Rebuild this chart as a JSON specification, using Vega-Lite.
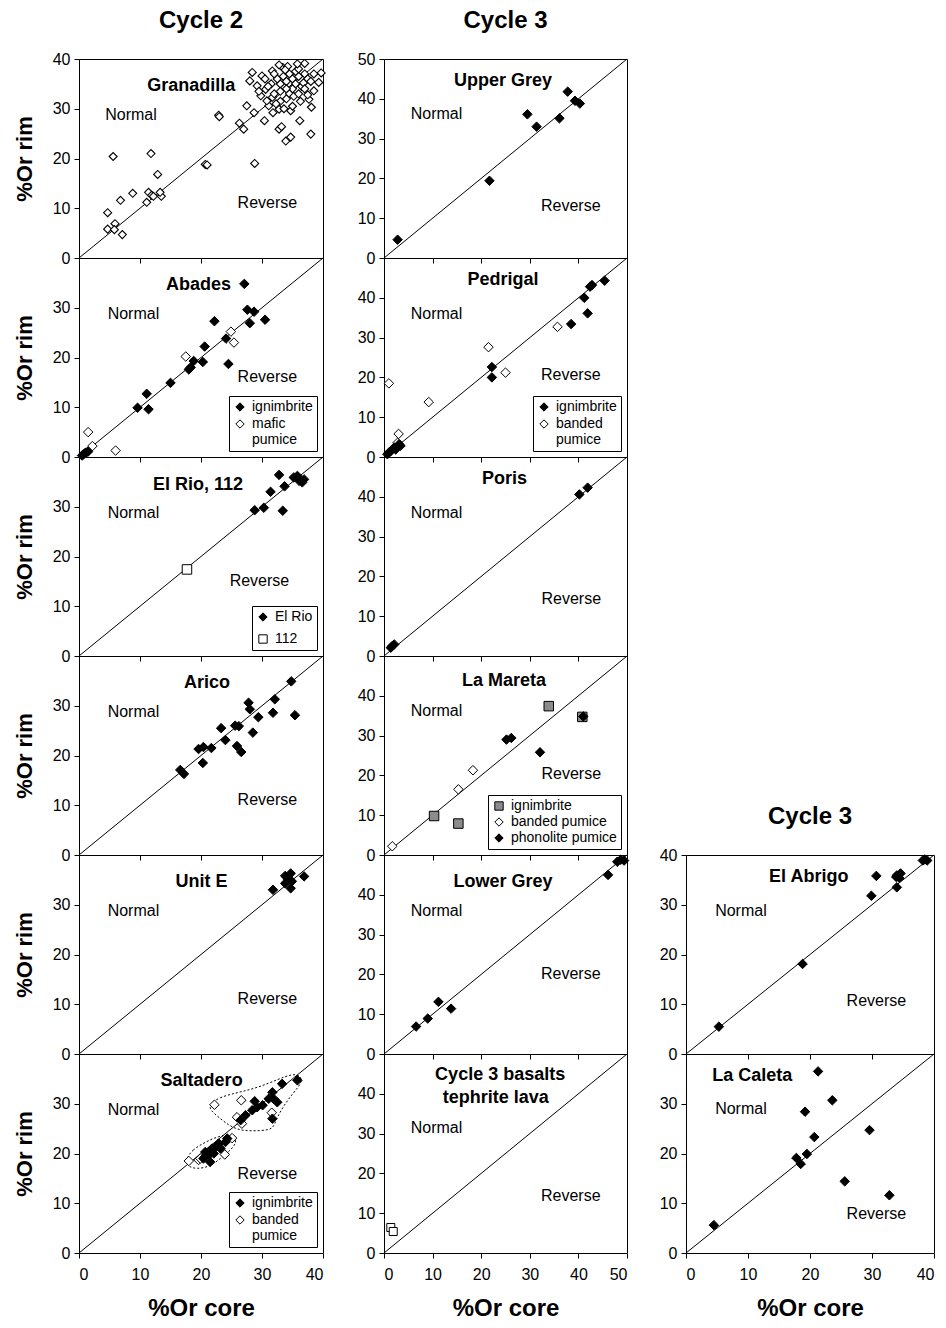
{
  "$schema": "https://vega.github.io/schema/vega-lite/v6.json",
  "background": "white",
  "padding": {"left": 12, "top": 8, "right": 2, "bottom": 2},
  "config": {
    "font": "Liberation Sans",
    "view": {"stroke": "black", "strokeWidth": 1},
    "axis": {
      "grid": false, "domain": false, "tickColor": "black", "tickSize": 5, "tickWidth": 1,
      "labelColor": "black", "labelFont": "Liberation Sans", "labelFontSize": 16, "labelPadding": 4,
      "titleFont": "Liberation Sans", "titleFontSize": 24, "titleFontWeight": "bold", "titleColor": "black"
    },
    "axisY": {"titleFontSize": 22, "titlePadding": 16},
    "axisX": {"titlePadding": 14, "labelPadding": 8},
    "legend": {
      "strokeColor": "black", "fillColor": "white", "padding": 4, "offset": 6, "cornerRadius": 0,
      "labelFont": "Liberation Sans", "labelFontSize": 14, "labelColor": "black", "labelOffset": 5,
      "symbolStrokeWidth": 1, "symbolSize": 70, "rowPadding": 3
    },
    "title": {"font": "Liberation Sans", "fontSize": 24, "fontWeight": "bold", "color": "black", "frame": "group", "anchor": "middle", "offset": 18}
  },
  "datasets": {
    "points": [
      {"panel":"Granadilla","type":"pumice","x":5.6,"y":20.4},{"panel":"Granadilla","type":"pumice","x":11.8,"y":21.0},{"panel":"Granadilla","type":"pumice","x":12.9,"y":16.8},{"panel":"Granadilla","type":"pumice","x":8.8,"y":13.0},{"panel":"Granadilla","type":"pumice","x":6.8,"y":11.6},{"panel":"Granadilla","type":"pumice","x":4.7,"y":9.1},{"panel":"Granadilla","type":"pumice","x":4.7,"y":5.8},{"panel":"Granadilla","type":"pumice","x":5.9,"y":6.9},{"panel":"Granadilla","type":"pumice","x":5.8,"y":5.7},{"panel":"Granadilla","type":"pumice","x":7.1,"y":4.7},
      {"panel":"Granadilla","type":"pumice","x":11.4,"y":13.2},{"panel":"Granadilla","type":"pumice","x":11.9,"y":12.6},{"panel":"Granadilla","type":"pumice","x":12.2,"y":12.4},{"panel":"Granadilla","type":"pumice","x":11.1,"y":11.2},{"panel":"Granadilla","type":"pumice","x":13.5,"y":12.4},{"panel":"Granadilla","type":"pumice","x":13.3,"y":13.2},{"panel":"Granadilla","type":"pumice","x":20.7,"y":18.8},{"panel":"Granadilla","type":"pumice","x":21.0,"y":18.7},{"panel":"Granadilla","type":"pumice","x":28.8,"y":19.0},{"panel":"Granadilla","type":"pumice","x":22.9,"y":28.7},
      {"panel":"Granadilla","type":"pumice","x":23.0,"y":28.4},{"panel":"Granadilla","type":"pumice","x":26.3,"y":27.1},{"panel":"Granadilla","type":"pumice","x":27.0,"y":25.9},{"panel":"Granadilla","type":"pumice","x":27.5,"y":30.6},{"panel":"Granadilla","type":"pumice","x":28.7,"y":29.2},{"panel":"Granadilla","type":"pumice","x":30.4,"y":27.6},{"panel":"Granadilla","type":"pumice","x":32.8,"y":25.9},{"panel":"Granadilla","type":"pumice","x":33.2,"y":26.4},{"panel":"Granadilla","type":"pumice","x":33.9,"y":23.5},{"panel":"Granadilla","type":"pumice","x":34.7,"y":24.3},
      {"panel":"Granadilla","type":"pumice","x":36.2,"y":27.6},{"panel":"Granadilla","type":"pumice","x":38.0,"y":24.9},{"panel":"Granadilla","type":"pumice","x":38.1,"y":30.3},{"panel":"Granadilla","type":"pumice","x":28.4,"y":37.3},{"panel":"Granadilla","type":"pumice","x":28.0,"y":35.6},{"panel":"Granadilla","type":"pumice","x":29.2,"y":34.6},{"panel":"Granadilla","type":"pumice","x":30.0,"y":36.6},{"panel":"Granadilla","type":"pumice","x":31.7,"y":37.6},{"panel":"Granadilla","type":"pumice","x":33.4,"y":38.3},{"panel":"Granadilla","type":"pumice","x":37.0,"y":39.1},
      {"panel":"Granadilla","type":"pumice","x":39.7,"y":37.2},{"panel":"Granadilla","type":"pumice","x":39.3,"y":35.3},{"panel":"Granadilla","type":"pumice","x":38.5,"y":33.6},{"panel":"Granadilla","type":"pumice","x":37.7,"y":31.9},{"panel":"Granadilla","type":"pumice","x":32.8,"y":29.9},{"panel":"Granadilla","type":"pumice","x":34.7,"y":29.6},{"panel":"Granadilla","type":"pumice","x":31.1,"y":30.6},{"panel":"Granadilla","type":"pumice","x":29.8,"y":32.6},{"panel":"Granadilla","type":"pumice","x":30.6,"y":33.9},{"panel":"Granadilla","type":"pumice","x":31.7,"y":32.3},
      {"panel":"Granadilla","type":"pumice","x":33.5,"y":36.5},{"panel":"Granadilla","type":"pumice","x":34.0,"y":35.5},{"panel":"Granadilla","type":"pumice","x":34.5,"y":37.0},{"panel":"Granadilla","type":"pumice","x":35.0,"y":36.0},{"panel":"Granadilla","type":"pumice","x":35.5,"y":35.0},{"panel":"Granadilla","type":"pumice","x":36.0,"y":36.5},{"panel":"Granadilla","type":"pumice","x":36.5,"y":34.5},{"panel":"Granadilla","type":"pumice","x":35.0,"y":34.0},{"panel":"Granadilla","type":"pumice","x":34.0,"y":34.0},{"panel":"Granadilla","type":"pumice","x":33.0,"y":35.0},
      {"panel":"Granadilla","type":"pumice","x":32.5,"y":36.0},{"panel":"Granadilla","type":"pumice","x":33.0,"y":33.5},{"panel":"Granadilla","type":"pumice","x":34.5,"y":33.0},{"panel":"Granadilla","type":"pumice","x":35.5,"y":37.5},{"panel":"Granadilla","type":"pumice","x":36.0,"y":38.0},{"panel":"Granadilla","type":"pumice","x":37.0,"y":37.0},{"panel":"Granadilla","type":"pumice","x":37.5,"y":36.0},{"panel":"Granadilla","type":"pumice","x":36.8,"y":35.2},{"panel":"Granadilla","type":"pumice","x":35.2,"y":32.5},{"panel":"Granadilla","type":"pumice","x":34.0,"y":32.0},
      {"panel":"Granadilla","type":"pumice","x":33.0,"y":31.5},{"panel":"Granadilla","type":"pumice","x":32.0,"y":33.0},{"panel":"Granadilla","type":"pumice","x":31.5,"y":35.0},{"panel":"Granadilla","type":"pumice","x":32.0,"y":37.0},{"panel":"Granadilla","type":"pumice","x":30.5,"y":36.0},{"panel":"Granadilla","type":"pumice","x":31.0,"y":34.5},{"panel":"Granadilla","type":"pumice","x":36.0,"y":33.0},{"panel":"Granadilla","type":"pumice","x":37.0,"y":34.0},{"panel":"Granadilla","type":"pumice","x":38.0,"y":35.5},{"panel":"Granadilla","type":"pumice","x":38.5,"y":37.0},
      {"panel":"Granadilla","type":"pumice","x":34.2,"y":38.5},{"panel":"Granadilla","type":"pumice","x":35.8,"y":39.0},{"panel":"Granadilla","type":"pumice","x":33.8,"y":37.8},{"panel":"Granadilla","type":"pumice","x":32.8,"y":38.8},{"panel":"Granadilla","type":"pumice","x":36.3,"y":31.5},{"panel":"Granadilla","type":"pumice","x":37.5,"y":32.8},{"panel":"Granadilla","type":"pumice","x":32.3,"y":31.0},{"panel":"Granadilla","type":"pumice","x":30.8,"y":31.6},{"panel":"Granadilla","type":"pumice","x":29.5,"y":33.5},{"panel":"Granadilla","type":"pumice","x":35.0,"y":30.5},
      {"panel":"Granadilla","type":"pumice","x":33.6,"y":30.0},{"panel":"Granadilla","type":"pumice","x":31.8,"y":29.2},

      {"panel":"Abades","type":"mafic pumice","x":17.5,"y":20.2},{"panel":"Abades","type":"mafic pumice","x":24.9,"y":25.2},{"panel":"Abades","type":"mafic pumice","x":25.4,"y":23.0},{"panel":"Abades","type":"mafic pumice","x":1.5,"y":5.0},{"panel":"Abades","type":"mafic pumice","x":6.0,"y":1.3},{"panel":"Abades","type":"mafic pumice","x":2.2,"y":2.2},
      {"panel":"Abades","type":"ignimbrite","x":27.1,"y":34.8},{"panel":"Abades","type":"ignimbrite","x":27.6,"y":29.6},{"panel":"Abades","type":"ignimbrite","x":28.7,"y":29.2},{"panel":"Abades","type":"ignimbrite","x":30.5,"y":27.6},{"panel":"Abades","type":"ignimbrite","x":28.0,"y":26.9},{"panel":"Abades","type":"ignimbrite","x":22.2,"y":27.3},{"panel":"Abades","type":"ignimbrite","x":24.1,"y":23.8},{"panel":"Abades","type":"ignimbrite","x":24.5,"y":18.7},{"panel":"Abades","type":"ignimbrite","x":20.6,"y":22.2},{"panel":"Abades","type":"ignimbrite","x":20.3,"y":19.1},
      {"panel":"Abades","type":"ignimbrite","x":18.8,"y":19.3},{"panel":"Abades","type":"ignimbrite","x":18.0,"y":17.6},{"panel":"Abades","type":"ignimbrite","x":18.3,"y":18.0},{"panel":"Abades","type":"ignimbrite","x":15.0,"y":14.9},{"panel":"Abades","type":"ignimbrite","x":11.1,"y":12.7},{"panel":"Abades","type":"ignimbrite","x":11.4,"y":9.6},{"panel":"Abades","type":"ignimbrite","x":9.6,"y":9.9},{"panel":"Abades","type":"ignimbrite","x":1.0,"y":0.8},{"panel":"Abades","type":"ignimbrite","x":0.7,"y":0.5},{"panel":"Abades","type":"ignimbrite","x":1.5,"y":1.1},
      {"panel":"Abades","type":"ignimbrite","x":0.5,"y":0.3},{"panel":"Abades","type":"ignimbrite","x":1.2,"y":0.9},

      {"panel":"El Rio","type":"El Rio","x":32.8,"y":36.4},{"panel":"El Rio","type":"El Rio","x":31.4,"y":33.0},{"panel":"El Rio","type":"El Rio","x":33.7,"y":34.1},{"panel":"El Rio","type":"El Rio","x":28.8,"y":29.3},{"panel":"El Rio","type":"El Rio","x":30.3,"y":29.8},{"panel":"El Rio","type":"El Rio","x":33.4,"y":29.2},{"panel":"El Rio","type":"El Rio","x":35.8,"y":36.2},{"panel":"El Rio","type":"El Rio","x":36.6,"y":34.9},{"panel":"El Rio","type":"El Rio","x":36.1,"y":35.2},{"panel":"El Rio","type":"El Rio","x":35.2,"y":35.9},
      {"panel":"El Rio","type":"El Rio","x":36.9,"y":35.5},{"panel":"El Rio","type":"112","x":17.7,"y":17.4},

      {"panel":"Arico","type":"ignimbrite","x":34.8,"y":34.9},{"panel":"Arico","type":"ignimbrite","x":32.1,"y":31.3},{"panel":"Arico","type":"ignimbrite","x":35.4,"y":28.1},{"panel":"Arico","type":"ignimbrite","x":31.8,"y":28.6},{"panel":"Arico","type":"ignimbrite","x":27.8,"y":30.6},{"panel":"Arico","type":"ignimbrite","x":28.0,"y":29.3},{"panel":"Arico","type":"ignimbrite","x":29.4,"y":27.7},{"panel":"Arico","type":"ignimbrite","x":28.5,"y":24.6},{"panel":"Arico","type":"ignimbrite","x":23.3,"y":25.5},{"panel":"Arico","type":"ignimbrite","x":25.6,"y":26.0},
      {"panel":"Arico","type":"ignimbrite","x":26.2,"y":25.9},{"panel":"Arico","type":"ignimbrite","x":24.0,"y":23.1},{"panel":"Arico","type":"ignimbrite","x":25.9,"y":21.9},{"panel":"Arico","type":"ignimbrite","x":26.6,"y":20.7},{"panel":"Arico","type":"ignimbrite","x":19.6,"y":21.3},{"panel":"Arico","type":"ignimbrite","x":20.4,"y":21.7},{"panel":"Arico","type":"ignimbrite","x":21.7,"y":21.5},{"panel":"Arico","type":"ignimbrite","x":20.3,"y":18.5},{"panel":"Arico","type":"ignimbrite","x":16.6,"y":17.1},{"panel":"Arico","type":"ignimbrite","x":17.2,"y":16.3},

      {"panel":"Unit E","type":"ignimbrite","x":31.8,"y":33.0},{"panel":"Unit E","type":"ignimbrite","x":33.8,"y":35.8},{"panel":"Unit E","type":"ignimbrite","x":34.7,"y":36.3},{"panel":"Unit E","type":"ignimbrite","x":34.9,"y":34.7},{"panel":"Unit E","type":"ignimbrite","x":34.3,"y":35.1},{"panel":"Unit E","type":"ignimbrite","x":36.9,"y":35.7},{"panel":"Unit E","type":"ignimbrite","x":34.7,"y":33.3},{"panel":"Unit E","type":"ignimbrite","x":33.8,"y":34.3},

      {"panel":"Saltadero","type":"banded pumice","x":22.2,"y":29.8},{"panel":"Saltadero","type":"banded pumice","x":26.6,"y":30.7},{"panel":"Saltadero","type":"banded pumice","x":25.9,"y":27.3},{"panel":"Saltadero","type":"banded pumice","x":31.6,"y":28.2},{"panel":"Saltadero","type":"banded pumice","x":18.0,"y":18.5},{"panel":"Saltadero","type":"banded pumice","x":19.6,"y":18.7},{"panel":"Saltadero","type":"banded pumice","x":23.9,"y":19.8},{"panel":"Saltadero","type":"banded pumice","x":25.1,"y":23.1},{"panel":"Saltadero","type":"banded pumice","x":26.7,"y":26.0},{"panel":"Saltadero","type":"banded pumice","x":19.9,"y":19.0},
      {"panel":"Saltadero","type":"ignimbrite","x":35.8,"y":34.7},{"panel":"Saltadero","type":"ignimbrite","x":33.3,"y":34.0},{"panel":"Saltadero","type":"ignimbrite","x":31.7,"y":32.3},{"panel":"Saltadero","type":"ignimbrite","x":31.9,"y":31.0},{"panel":"Saltadero","type":"ignimbrite","x":32.5,"y":30.3},{"panel":"Saltadero","type":"ignimbrite","x":31.1,"y":31.0},{"panel":"Saltadero","type":"ignimbrite","x":28.8,"y":30.5},{"panel":"Saltadero","type":"ignimbrite","x":29.2,"y":29.3},{"panel":"Saltadero","type":"ignimbrite","x":28.4,"y":28.7},{"panel":"Saltadero","type":"ignimbrite","x":27.3,"y":27.7},
      {"panel":"Saltadero","type":"ignimbrite","x":26.5,"y":26.7},{"panel":"Saltadero","type":"ignimbrite","x":31.7,"y":27.0},{"panel":"Saltadero","type":"ignimbrite","x":30.1,"y":29.7},{"panel":"Saltadero","type":"ignimbrite","x":20.7,"y":20.3},{"panel":"Saltadero","type":"ignimbrite","x":21.3,"y":19.7},{"panel":"Saltadero","type":"ignimbrite","x":21.8,"y":21.0},{"panel":"Saltadero","type":"ignimbrite","x":22.4,"y":21.3},{"panel":"Saltadero","type":"ignimbrite","x":22.9,"y":22.0},{"panel":"Saltadero","type":"ignimbrite","x":24.0,"y":22.3},{"panel":"Saltadero","type":"ignimbrite","x":24.3,"y":23.0},
      {"panel":"Saltadero","type":"ignimbrite","x":20.4,"y":19.0},{"panel":"Saltadero","type":"ignimbrite","x":21.5,"y":18.3},{"panel":"Saltadero","type":"ignimbrite","x":22.1,"y":20.0},{"panel":"Saltadero","type":"ignimbrite","x":23.2,"y":21.0},

      {"panel":"Upper Grey","type":"ignimbrite","x":2.8,"y":4.6},{"panel":"Upper Grey","type":"ignimbrite","x":21.7,"y":19.4},{"panel":"Upper Grey","type":"ignimbrite","x":29.5,"y":36.1},{"panel":"Upper Grey","type":"ignimbrite","x":31.4,"y":33.0},{"panel":"Upper Grey","type":"ignimbrite","x":36.1,"y":35.1},{"panel":"Upper Grey","type":"ignimbrite","x":37.8,"y":41.8},{"panel":"Upper Grey","type":"ignimbrite","x":39.3,"y":39.5},{"panel":"Upper Grey","type":"ignimbrite","x":40.3,"y":38.8},

      {"panel":"Pedrigal","type":"banded pumice","x":35.7,"y":32.7},{"panel":"Pedrigal","type":"banded pumice","x":21.5,"y":27.6},{"panel":"Pedrigal","type":"banded pumice","x":25.0,"y":21.2},{"panel":"Pedrigal","type":"banded pumice","x":1.0,"y":18.5},{"panel":"Pedrigal","type":"banded pumice","x":9.2,"y":13.8},{"panel":"Pedrigal","type":"banded pumice","x":3.0,"y":5.8},{"panel":"Pedrigal","type":"banded pumice","x":2.8,"y":3.6},
      {"panel":"Pedrigal","type":"ignimbrite","x":45.4,"y":44.3},{"panel":"Pedrigal","type":"ignimbrite","x":42.4,"y":42.8},{"panel":"Pedrigal","type":"ignimbrite","x":42.8,"y":43.2},{"panel":"Pedrigal","type":"ignimbrite","x":41.2,"y":40.0},{"panel":"Pedrigal","type":"ignimbrite","x":41.9,"y":36.1},{"panel":"Pedrigal","type":"ignimbrite","x":38.5,"y":33.4},{"panel":"Pedrigal","type":"ignimbrite","x":22.2,"y":22.6},{"panel":"Pedrigal","type":"ignimbrite","x":22.2,"y":20.0},{"panel":"Pedrigal","type":"ignimbrite","x":0.7,"y":0.7},{"panel":"Pedrigal","type":"ignimbrite","x":1.4,"y":1.5},
      {"panel":"Pedrigal","type":"ignimbrite","x":2.4,"y":1.9},{"panel":"Pedrigal","type":"ignimbrite","x":3.4,"y":2.8},{"panel":"Pedrigal","type":"ignimbrite","x":1.0,"y":1.1},{"panel":"Pedrigal","type":"ignimbrite","x":2.1,"y":2.4},{"panel":"Pedrigal","type":"ignimbrite","x":3.1,"y":3.2},

      {"panel":"Poris","type":"ignimbrite","x":40.2,"y":40.6},{"panel":"Poris","type":"ignimbrite","x":41.9,"y":42.3},{"panel":"Poris","type":"ignimbrite","x":1.7,"y":2.5},{"panel":"Poris","type":"ignimbrite","x":2.1,"y":2.9},{"panel":"Poris","type":"ignimbrite","x":1.4,"y":2.1},

      {"panel":"La Mareta","type":"ignimbrite","x":33.9,"y":37.4},{"panel":"La Mareta","type":"ignimbrite","x":10.3,"y":9.8},{"panel":"La Mareta","type":"ignimbrite","x":15.3,"y":7.9},{"panel":"La Mareta","type":"ignimbrite","x":40.8,"y":34.7},
      {"panel":"La Mareta","type":"banded pumice","x":18.3,"y":21.3},{"panel":"La Mareta","type":"banded pumice","x":15.3,"y":16.5},{"panel":"La Mareta","type":"banded pumice","x":1.7,"y":2.2},
      {"panel":"La Mareta","type":"phonolite pumice","x":25.2,"y":29.0},{"panel":"La Mareta","type":"phonolite pumice","x":26.2,"y":29.4},{"panel":"La Mareta","type":"phonolite pumice","x":32.1,"y":25.8},{"panel":"La Mareta","type":"phonolite pumice","x":41.0,"y":34.8},

      {"panel":"Lower Grey","type":"ignimbrite","x":6.6,"y":6.9},{"panel":"Lower Grey","type":"ignimbrite","x":9.0,"y":8.9},{"panel":"Lower Grey","type":"ignimbrite","x":11.2,"y":13.1},{"panel":"Lower Grey","type":"ignimbrite","x":13.8,"y":11.4},{"panel":"Lower Grey","type":"ignimbrite","x":46.1,"y":45.0},{"panel":"Lower Grey","type":"ignimbrite","x":48.0,"y":48.3},{"panel":"Lower Grey","type":"ignimbrite","x":48.7,"y":48.8},{"panel":"Lower Grey","type":"ignimbrite","x":49.4,"y":48.6},

      {"panel":"Basalts","type":"tephrite lava","x":1.4,"y":6.4},{"panel":"Basalts","type":"tephrite lava","x":1.9,"y":5.4},

      {"panel":"El Abrigo","type":"ignimbrite","x":5.3,"y":5.5},{"panel":"El Abrigo","type":"ignimbrite","x":18.8,"y":18.1},{"panel":"El Abrigo","type":"ignimbrite","x":29.9,"y":31.8},{"panel":"El Abrigo","type":"ignimbrite","x":30.7,"y":35.8},{"panel":"El Abrigo","type":"ignimbrite","x":34.0,"y":33.5},{"panel":"El Abrigo","type":"ignimbrite","x":34.0,"y":35.9},{"panel":"El Abrigo","type":"ignimbrite","x":34.6,"y":36.3},{"panel":"El Abrigo","type":"ignimbrite","x":33.9,"y":35.6},{"panel":"El Abrigo","type":"ignimbrite","x":34.4,"y":35.4},{"panel":"El Abrigo","type":"ignimbrite","x":38.2,"y":38.9},
      {"panel":"El Abrigo","type":"ignimbrite","x":38.9,"y":38.9},{"panel":"El Abrigo","type":"ignimbrite","x":38.5,"y":39.1},

      {"panel":"La Caleta","type":"ignimbrite","x":4.5,"y":5.6},{"panel":"La Caleta","type":"ignimbrite","x":17.8,"y":19.1},{"panel":"La Caleta","type":"ignimbrite","x":18.5,"y":17.9},{"panel":"La Caleta","type":"ignimbrite","x":19.5,"y":19.9},{"panel":"La Caleta","type":"ignimbrite","x":20.7,"y":23.3},{"panel":"La Caleta","type":"ignimbrite","x":19.2,"y":28.4},{"panel":"La Caleta","type":"ignimbrite","x":21.3,"y":36.5},{"panel":"La Caleta","type":"ignimbrite","x":23.6,"y":30.7},{"panel":"La Caleta","type":"ignimbrite","x":29.6,"y":24.7},{"panel":"La Caleta","type":"ignimbrite","x":25.6,"y":14.4},
      {"panel":"La Caleta","type":"ignimbrite","x":32.8,"y":11.6}
    ],
    "labels": [
      {"panel":"Granadilla","kind":"name","text":"Granadilla","x":18.4,"y":34.5},{"panel":"Granadilla","kind":"region","text":"Normal","x":4.3,"y":28.7},{"panel":"Granadilla","kind":"region","text":"Reverse","x":26.0,"y":11.1},
      {"panel":"Abades","kind":"name","text":"Abades","x":19.6,"y":34.5},{"panel":"Abades","kind":"region","text":"Normal","x":4.7,"y":28.8},{"panel":"Abades","kind":"region","text":"Reverse","x":26.0,"y":16.0},
      {"panel":"El Rio","kind":"name","text":"El Rio, 112","x":19.5,"y":34.4},{"panel":"El Rio","kind":"region","text":"Normal","x":4.7,"y":28.7},{"panel":"El Rio","kind":"region","text":"Reverse","x":24.7,"y":15.1},
      {"panel":"Arico","kind":"name","text":"Arico","x":21.0,"y":34.5},{"panel":"Arico","kind":"region","text":"Normal","x":4.7,"y":28.8},{"panel":"Arico","kind":"region","text":"Reverse","x":26.0,"y":11.1},
      {"panel":"Unit E","kind":"name","text":"Unit E","x":20.1,"y":34.5},{"panel":"Unit E","kind":"region","text":"Normal","x":4.7,"y":28.8},{"panel":"Unit E","kind":"region","text":"Reverse","x":26.0,"y":11.1},
      {"panel":"Saltadero","kind":"name","text":"Saltadero","x":20.1,"y":34.5},{"panel":"Saltadero","kind":"region","text":"Normal","x":4.7,"y":28.8},{"panel":"Saltadero","kind":"region","text":"Reverse","x":26.0,"y":15.9},
      {"panel":"Upper Grey","kind":"name","text":"Upper Grey","x":24.5,"y":44.5},{"panel":"Upper Grey","kind":"region","text":"Normal","x":5.5,"y":36.1},{"panel":"Upper Grey","kind":"region","text":"Reverse","x":32.3,"y":13.0},
      {"panel":"Pedrigal","kind":"name","text":"Pedrigal","x":24.5,"y":44.4},{"panel":"Pedrigal","kind":"region","text":"Normal","x":5.5,"y":36.0},{"panel":"Pedrigal","kind":"region","text":"Reverse","x":32.3,"y":20.5},
      {"panel":"Poris","kind":"name","text":"Poris","x":24.8,"y":44.4},{"panel":"Poris","kind":"region","text":"Normal","x":5.5,"y":36.0},{"panel":"Poris","kind":"region","text":"Reverse","x":32.4,"y":14.2},
      {"panel":"La Mareta","kind":"name","text":"La  Mareta","x":24.7,"y":43.7},{"panel":"La Mareta","kind":"region","text":"Normal","x":5.5,"y":36.3},{"panel":"La Mareta","kind":"region","text":"Reverse","x":32.4,"y":20.3},
      {"panel":"Lower Grey","kind":"name","text":"Lower Grey","x":24.5,"y":43.3},{"panel":"Lower Grey","kind":"region","text":"Normal","x":5.5,"y":36.0},{"panel":"Lower Grey","kind":"region","text":"Reverse","x":32.3,"y":20.2},
      {"panel":"Basalts","kind":"name","text":"Cycle  3  basalts","x":23.9,"y":44.7},{"panel":"Basalts","kind":"name","text":"tephrite lava","x":23.0,"y":38.9},{"panel":"Basalts","kind":"region","text":"Normal","x":5.5,"y":31.4},{"panel":"Basalts","kind":"region","text":"Reverse","x":32.3,"y":14.2},
      {"panel":"El Abrigo","kind":"name","text":"El Abrigo","x":19.8,"y":35.6},{"panel":"El Abrigo","kind":"region","text":"Normal","x":4.7,"y":28.7},{"panel":"El Abrigo","kind":"region","text":"Reverse","x":25.9,"y":10.6},
      {"panel":"La Caleta","kind":"name","text":"La  Caleta","x":10.7,"y":35.6},{"panel":"La Caleta","kind":"region","text":"Normal","x":4.7,"y":28.9},{"panel":"La Caleta","kind":"region","text":"Reverse","x":25.9,"y":7.9}
    ],
    "outlines": [
      {"loop":"upper","order":1,"x":21.4,"y":29.8},{"loop":"upper","order":2,"x":22.9,"y":31.3},{"loop":"upper","order":3,"x":26.2,"y":32.3},{"loop":"upper","order":4,"x":29.5,"y":33.3},{"loop":"upper","order":5,"x":32.8,"y":35.0},{"loop":"upper","order":6,"x":35.0,"y":36.0},{"loop":"upper","order":7,"x":36.3,"y":35.7},{"loop":"upper","order":8,"x":36.6,"y":34.3},{"loop":"upper","order":9,"x":35.2,"y":32.3},{"loop":"upper","order":10,"x":33.6,"y":29.7},
      {"loop":"upper","order":11,"x":32.5,"y":27.3},{"loop":"upper","order":12,"x":31.9,"y":25.3},{"loop":"upper","order":13,"x":31.1,"y":24.7},{"loop":"upper","order":14,"x":28.4,"y":24.5},{"loop":"upper","order":15,"x":26.2,"y":24.7},{"loop":"upper","order":16,"x":24.5,"y":25.7},{"loop":"upper","order":17,"x":22.9,"y":27.3},{"loop":"upper","order":18,"x":21.5,"y":28.7},
      {"loop":"lower","order":1,"x":17.7,"y":19.0},{"loop":"lower","order":2,"x":18.5,"y":20.7},{"loop":"lower","order":3,"x":20.7,"y":22.3},{"loop":"lower","order":4,"x":22.9,"y":23.5},{"loop":"lower","order":5,"x":24.8,"y":23.8},{"loop":"lower","order":6,"x":25.8,"y":23.0},{"loop":"lower","order":7,"x":25.6,"y":21.7},{"loop":"lower","order":8,"x":24.5,"y":20.3},{"loop":"lower","order":9,"x":22.9,"y":18.7},{"loop":"lower","order":10,"x":21.3,"y":17.3},
      {"loop":"lower","order":11,"x":19.3,"y":16.9},{"loop":"lower","order":12,"x":18.0,"y":17.3},{"loop":"lower","order":13,"x":17.5,"y":18.3}
    ]
  },
  "spacing": 28,
  "resolve": {"scale": {"shape": "independent", "fill": "independent", "stroke": "independent"}, "legend": {"shape": "independent", "fill": "independent", "stroke": "independent"}},
  "hconcat": [
    {
      "bounds": "flush",
      "spacing": 0,
      "resolve": {"scale": {"shape": "independent", "fill": "independent", "stroke": "independent"}, "legend": {"shape": "independent", "fill": "independent", "stroke": "independent"}},
      "vconcat": [
        {
          "title": "Cycle 2",
          "width": 244, "height": 199,
          "encoding": {
            "x": {"field": "x", "type": "quantitative", "scale": {"domain": [0, 40], "nice": false}, "axis": {"values": [0, 10, 20, 30, 40], "labels": false, "title": null}},
            "y": {"field": "y", "type": "quantitative", "scale": {"domain": [0, 40], "nice": false}, "axis": {"values": [0, 10, 20, 30, 40], "title": "%Or rim"}}
          },
          "layer": [
            {"data": {"values": [{"x": 0, "y": 0, "x2": 40, "y2": 40}]}, "mark": {"type": "rule", "color": "black", "strokeWidth": 1}, "encoding": {"x2": {"field": "x2"}, "y2": {"field": "y2"}}},
            {"data": {"name": "points"}, "transform": [{"filter": "datum.panel === 'Granadilla'"}], "mark": {"type": "point", "shape": "diamond", "filled": true, "fill": "white", "stroke": "black", "strokeWidth": 1.1, "size": 64, "opacity": 1}},
            {"data": {"name": "labels"}, "transform": [{"filter": "datum.panel === 'Granadilla' && datum.kind === 'name'"}], "mark": {"type": "text", "fontWeight": "bold", "fontSize": 18, "color": "black"}, "encoding": {"text": {"field": "text"}}},
            {"data": {"name": "labels"}, "transform": [{"filter": "datum.panel === 'Granadilla' && datum.kind === 'region'"}], "mark": {"type": "text", "align": "left", "fontSize": 16, "color": "black"}, "encoding": {"text": {"field": "text"}}}
          ]
        },
        {
          "width": 244, "height": 199,
          "encoding": {
            "x": {"field": "x", "type": "quantitative", "scale": {"domain": [0, 40], "nice": false}, "axis": {"values": [0, 10, 20, 30, 40], "labels": false, "title": null}},
            "y": {"field": "y", "type": "quantitative", "scale": {"domain": [0, 40], "nice": false}, "axis": {"values": [0, 10, 20, 30], "title": "%Or rim"}}
          },
          "layer": [
            {"data": {"values": [{"x": 0, "y": 0, "x2": 40, "y2": 40}]}, "mark": {"type": "rule", "color": "black", "strokeWidth": 1}, "encoding": {"x2": {"field": "x2"}, "y2": {"field": "y2"}}},
            {"data": {"name": "points"}, "transform": [{"filter": "datum.panel === 'Abades'"}], "mark": {"type": "point", "filled": true, "strokeWidth": 1, "size": 90, "opacity": 1},
             "encoding": {
               "shape": {"field": "type", "type": "nominal", "scale": {"domain": ["ignimbrite", "mafic pumice"], "range": ["diamond", "diamond"]}, "legend": {"orient": "bottom-right", "title": null, "labelExpr": "datum.label === 'mafic pumice' ? ['mafic', 'pumice'] : datum.label"}},
               "fill": {"field": "type", "type": "nominal", "scale": {"domain": ["ignimbrite", "mafic pumice"], "range": ["black", "white"]}, "legend": {"orient": "bottom-right", "title": null, "labelExpr": "datum.label === 'mafic pumice' ? ['mafic', 'pumice'] : datum.label"}},
               "stroke": {"field": "type", "type": "nominal", "scale": {"domain": ["ignimbrite", "mafic pumice"], "range": ["black", "black"]}, "legend": {"orient": "bottom-right", "title": null, "labelExpr": "datum.label === 'mafic pumice' ? ['mafic', 'pumice'] : datum.label"}}
             }},
            {"data": {"name": "labels"}, "transform": [{"filter": "datum.panel === 'Abades' && datum.kind === 'name'"}], "mark": {"type": "text", "fontWeight": "bold", "fontSize": 18, "color": "black"}, "encoding": {"text": {"field": "text"}}},
            {"data": {"name": "labels"}, "transform": [{"filter": "datum.panel === 'Abades' && datum.kind === 'region'"}], "mark": {"type": "text", "align": "left", "fontSize": 16, "color": "black"}, "encoding": {"text": {"field": "text"}}}
          ]
        },
        {
          "width": 244, "height": 199,
          "encoding": {
            "x": {"field": "x", "type": "quantitative", "scale": {"domain": [0, 40], "nice": false}, "axis": {"values": [0, 10, 20, 30, 40], "labels": false, "title": null}},
            "y": {"field": "y", "type": "quantitative", "scale": {"domain": [0, 40], "nice": false}, "axis": {"values": [0, 10, 20, 30], "title": "%Or rim"}}
          },
          "layer": [
            {"data": {"values": [{"x": 0, "y": 0, "x2": 40, "y2": 40}]}, "mark": {"type": "rule", "color": "black", "strokeWidth": 1}, "encoding": {"x2": {"field": "x2"}, "y2": {"field": "y2"}}},
            {"data": {"name": "points"}, "transform": [{"filter": "datum.panel === 'El Rio'"}], "mark": {"type": "point", "filled": true, "strokeWidth": 1, "size": 90, "opacity": 1},
             "encoding": {
               "shape": {"field": "type", "type": "nominal", "scale": {"domain": ["El Rio", "112"], "range": ["diamond", "square"]}, "legend": {"orient": "bottom-right", "title": null, "rowPadding": 8}},
               "fill": {"field": "type", "type": "nominal", "scale": {"domain": ["El Rio", "112"], "range": ["black", "white"]}, "legend": {"orient": "bottom-right", "title": null, "rowPadding": 8}},
               "stroke": {"field": "type", "type": "nominal", "scale": {"domain": ["El Rio", "112"], "range": ["black", "black"]}, "legend": {"orient": "bottom-right", "title": null, "rowPadding": 8}}
             }},
            {"data": {"name": "labels"}, "transform": [{"filter": "datum.panel === 'El Rio' && datum.kind === 'name'"}], "mark": {"type": "text", "fontWeight": "bold", "fontSize": 18, "color": "black"}, "encoding": {"text": {"field": "text"}}},
            {"data": {"name": "labels"}, "transform": [{"filter": "datum.panel === 'El Rio' && datum.kind === 'region'"}], "mark": {"type": "text", "align": "left", "fontSize": 16, "color": "black"}, "encoding": {"text": {"field": "text"}}}
          ]
        },
        {
          "width": 244, "height": 199,
          "encoding": {
            "x": {"field": "x", "type": "quantitative", "scale": {"domain": [0, 40], "nice": false}, "axis": {"values": [0, 10, 20, 30, 40], "labels": false, "title": null}},
            "y": {"field": "y", "type": "quantitative", "scale": {"domain": [0, 40], "nice": false}, "axis": {"values": [0, 10, 20, 30], "title": "%Or rim"}}
          },
          "layer": [
            {"data": {"values": [{"x": 0, "y": 0, "x2": 40, "y2": 40}]}, "mark": {"type": "rule", "color": "black", "strokeWidth": 1}, "encoding": {"x2": {"field": "x2"}, "y2": {"field": "y2"}}},
            {"data": {"name": "points"}, "transform": [{"filter": "datum.panel === 'Arico'"}], "mark": {"type": "point", "shape": "diamond", "filled": true, "fill": "black", "stroke": "black", "strokeWidth": 1, "size": 90, "opacity": 1}},
            {"data": {"name": "labels"}, "transform": [{"filter": "datum.panel === 'Arico' && datum.kind === 'name'"}], "mark": {"type": "text", "fontWeight": "bold", "fontSize": 18, "color": "black"}, "encoding": {"text": {"field": "text"}}},
            {"data": {"name": "labels"}, "transform": [{"filter": "datum.panel === 'Arico' && datum.kind === 'region'"}], "mark": {"type": "text", "align": "left", "fontSize": 16, "color": "black"}, "encoding": {"text": {"field": "text"}}}
          ]
        },
        {
          "width": 244, "height": 199,
          "encoding": {
            "x": {"field": "x", "type": "quantitative", "scale": {"domain": [0, 40], "nice": false}, "axis": {"values": [0, 10, 20, 30, 40], "labels": false, "title": null}},
            "y": {"field": "y", "type": "quantitative", "scale": {"domain": [0, 40], "nice": false}, "axis": {"values": [0, 10, 20, 30], "title": "%Or rim"}}
          },
          "layer": [
            {"data": {"values": [{"x": 0, "y": 0, "x2": 40, "y2": 40}]}, "mark": {"type": "rule", "color": "black", "strokeWidth": 1}, "encoding": {"x2": {"field": "x2"}, "y2": {"field": "y2"}}},
            {"data": {"name": "points"}, "transform": [{"filter": "datum.panel === 'Unit E'"}], "mark": {"type": "point", "shape": "diamond", "filled": true, "fill": "black", "stroke": "black", "strokeWidth": 1, "size": 90, "opacity": 1}},
            {"data": {"name": "labels"}, "transform": [{"filter": "datum.panel === 'Unit E' && datum.kind === 'name'"}], "mark": {"type": "text", "fontWeight": "bold", "fontSize": 18, "color": "black"}, "encoding": {"text": {"field": "text"}}},
            {"data": {"name": "labels"}, "transform": [{"filter": "datum.panel === 'Unit E' && datum.kind === 'region'"}], "mark": {"type": "text", "align": "left", "fontSize": 16, "color": "black"}, "encoding": {"text": {"field": "text"}}}
          ]
        },
        {
          "width": 244, "height": 199,
          "encoding": {
            "x": {"field": "x", "type": "quantitative", "scale": {"domain": [0, 40], "nice": false}, "axis": {"values": [0, 10, 20, 30, 40], "title": "%Or core"}},
            "y": {"field": "y", "type": "quantitative", "scale": {"domain": [0, 40], "nice": false}, "axis": {"values": [0, 10, 20, 30], "title": "%Or rim"}}
          },
          "layer": [
            {"data": {"values": [{"x": 0, "y": 0, "x2": 40, "y2": 40}]}, "mark": {"type": "rule", "color": "black", "strokeWidth": 1}, "encoding": {"x2": {"field": "x2"}, "y2": {"field": "y2"}}},
            {"data": {"name": "outlines"}, "mark": {"type": "line", "interpolate": "basis-closed", "color": "black", "strokeWidth": 1, "strokeDash": [2, 2]}, "encoding": {"detail": {"field": "loop"}, "order": {"field": "order"}}},
            {"data": {"name": "points"}, "transform": [{"filter": "datum.panel === 'Saltadero'"}], "mark": {"type": "point", "filled": true, "strokeWidth": 1, "size": 90, "opacity": 1},
             "encoding": {
               "shape": {"field": "type", "type": "nominal", "scale": {"domain": ["ignimbrite", "banded pumice"], "range": ["diamond", "diamond"]}, "legend": {"orient": "bottom-right", "title": null, "labelExpr": "datum.label === 'banded pumice' ? ['banded', 'pumice'] : datum.label"}},
               "fill": {"field": "type", "type": "nominal", "scale": {"domain": ["ignimbrite", "banded pumice"], "range": ["black", "white"]}, "legend": {"orient": "bottom-right", "title": null, "labelExpr": "datum.label === 'banded pumice' ? ['banded', 'pumice'] : datum.label"}},
               "stroke": {"field": "type", "type": "nominal", "scale": {"domain": ["ignimbrite", "banded pumice"], "range": ["black", "black"]}, "legend": {"orient": "bottom-right", "title": null, "labelExpr": "datum.label === 'banded pumice' ? ['banded', 'pumice'] : datum.label"}}
             }},
            {"data": {"name": "labels"}, "transform": [{"filter": "datum.panel === 'Saltadero' && datum.kind === 'name'"}], "mark": {"type": "text", "fontWeight": "bold", "fontSize": 18, "color": "black"}, "encoding": {"text": {"field": "text"}}},
            {"data": {"name": "labels"}, "transform": [{"filter": "datum.panel === 'Saltadero' && datum.kind === 'region'"}], "mark": {"type": "text", "align": "left", "fontSize": 16, "color": "black"}, "encoding": {"text": {"field": "text"}}}
          ]
        }
      ]
    },
    {
      "spacing": 26,
      "resolve": {"scale": {"shape": "independent", "fill": "independent", "stroke": "independent"}, "legend": {"shape": "independent", "fill": "independent", "stroke": "independent"}},
      "hconcat": [
        {
          "bounds": "flush",
          "spacing": 0,
          "resolve": {"scale": {"shape": "independent", "fill": "independent", "stroke": "independent"}, "legend": {"shape": "independent", "fill": "independent", "stroke": "independent"}},
          "vconcat": [
            {
              "title": "Cycle 3",
              "width": 243, "height": 199,
              "encoding": {
                "x": {"field": "x", "type": "quantitative", "scale": {"domain": [0, 50], "nice": false}, "axis": {"values": [0, 10, 20, 30, 40, 50], "labels": false, "title": null}},
                "y": {"field": "y", "type": "quantitative", "scale": {"domain": [0, 50], "nice": false}, "axis": {"values": [0, 10, 20, 30, 40, 50], "title": null}}
              },
              "layer": [
                {"data": {"values": [{"x": 0, "y": 0, "x2": 50, "y2": 50}]}, "mark": {"type": "rule", "color": "black", "strokeWidth": 1}, "encoding": {"x2": {"field": "x2"}, "y2": {"field": "y2"}}},
                {"data": {"name": "points"}, "transform": [{"filter": "datum.panel === 'Upper Grey'"}], "mark": {"type": "point", "shape": "diamond", "filled": true, "fill": "black", "stroke": "black", "strokeWidth": 1, "size": 90, "opacity": 1}},
                {"data": {"name": "labels"}, "transform": [{"filter": "datum.panel === 'Upper Grey' && datum.kind === 'name'"}], "mark": {"type": "text", "fontWeight": "bold", "fontSize": 18, "color": "black"}, "encoding": {"text": {"field": "text"}}},
                {"data": {"name": "labels"}, "transform": [{"filter": "datum.panel === 'Upper Grey' && datum.kind === 'region'"}], "mark": {"type": "text", "align": "left", "fontSize": 16, "color": "black"}, "encoding": {"text": {"field": "text"}}}
              ]
            },
            {
              "width": 243, "height": 199,
              "encoding": {
                "x": {"field": "x", "type": "quantitative", "scale": {"domain": [0, 50], "nice": false}, "axis": {"values": [0, 10, 20, 30, 40, 50], "labels": false, "title": null}},
                "y": {"field": "y", "type": "quantitative", "scale": {"domain": [0, 50], "nice": false}, "axis": {"values": [0, 10, 20, 30, 40], "title": null}}
              },
              "layer": [
                {"data": {"values": [{"x": 0, "y": 0, "x2": 50, "y2": 50}]}, "mark": {"type": "rule", "color": "black", "strokeWidth": 1}, "encoding": {"x2": {"field": "x2"}, "y2": {"field": "y2"}}},
                {"data": {"name": "points"}, "transform": [{"filter": "datum.panel === 'Pedrigal'"}], "mark": {"type": "point", "filled": true, "strokeWidth": 1, "size": 90, "opacity": 1},
                 "encoding": {
                   "shape": {"field": "type", "type": "nominal", "scale": {"domain": ["ignimbrite", "banded pumice"], "range": ["diamond", "diamond"]}, "legend": {"orient": "bottom-right", "title": null, "labelExpr": "datum.label === 'banded pumice' ? ['banded', 'pumice'] : datum.label"}},
                   "fill": {"field": "type", "type": "nominal", "scale": {"domain": ["ignimbrite", "banded pumice"], "range": ["black", "white"]}, "legend": {"orient": "bottom-right", "title": null, "labelExpr": "datum.label === 'banded pumice' ? ['banded', 'pumice'] : datum.label"}},
                   "stroke": {"field": "type", "type": "nominal", "scale": {"domain": ["ignimbrite", "banded pumice"], "range": ["black", "black"]}, "legend": {"orient": "bottom-right", "title": null, "labelExpr": "datum.label === 'banded pumice' ? ['banded', 'pumice'] : datum.label"}}
                 }},
                {"data": {"name": "labels"}, "transform": [{"filter": "datum.panel === 'Pedrigal' && datum.kind === 'name'"}], "mark": {"type": "text", "fontWeight": "bold", "fontSize": 18, "color": "black"}, "encoding": {"text": {"field": "text"}}},
                {"data": {"name": "labels"}, "transform": [{"filter": "datum.panel === 'Pedrigal' && datum.kind === 'region'"}], "mark": {"type": "text", "align": "left", "fontSize": 16, "color": "black"}, "encoding": {"text": {"field": "text"}}}
              ]
            },
            {
              "width": 243, "height": 199,
              "encoding": {
                "x": {"field": "x", "type": "quantitative", "scale": {"domain": [0, 50], "nice": false}, "axis": {"values": [0, 10, 20, 30, 40, 50], "labels": false, "title": null}},
                "y": {"field": "y", "type": "quantitative", "scale": {"domain": [0, 50], "nice": false}, "axis": {"values": [0, 10, 20, 30, 40], "title": null}}
              },
              "layer": [
                {"data": {"values": [{"x": 0, "y": 0, "x2": 50, "y2": 50}]}, "mark": {"type": "rule", "color": "black", "strokeWidth": 1}, "encoding": {"x2": {"field": "x2"}, "y2": {"field": "y2"}}},
                {"data": {"name": "points"}, "transform": [{"filter": "datum.panel === 'Poris'"}], "mark": {"type": "point", "shape": "diamond", "filled": true, "fill": "black", "stroke": "black", "strokeWidth": 1, "size": 90, "opacity": 1}},
                {"data": {"name": "labels"}, "transform": [{"filter": "datum.panel === 'Poris' && datum.kind === 'name'"}], "mark": {"type": "text", "fontWeight": "bold", "fontSize": 18, "color": "black"}, "encoding": {"text": {"field": "text"}}},
                {"data": {"name": "labels"}, "transform": [{"filter": "datum.panel === 'Poris' && datum.kind === 'region'"}], "mark": {"type": "text", "align": "left", "fontSize": 16, "color": "black"}, "encoding": {"text": {"field": "text"}}}
              ]
            },
            {
              "width": 243, "height": 199,
              "encoding": {
                "x": {"field": "x", "type": "quantitative", "scale": {"domain": [0, 50], "nice": false}, "axis": {"values": [0, 10, 20, 30, 40, 50], "labels": false, "title": null}},
                "y": {"field": "y", "type": "quantitative", "scale": {"domain": [0, 50], "nice": false}, "axis": {"values": [0, 10, 20, 30, 40], "title": null}}
              },
              "layer": [
                {"data": {"values": [{"x": 0, "y": 0, "x2": 50, "y2": 50}]}, "mark": {"type": "rule", "color": "black", "strokeWidth": 1}, "encoding": {"x2": {"field": "x2"}, "y2": {"field": "y2"}}},
                {"data": {"name": "points"}, "transform": [{"filter": "datum.panel === 'La Mareta'"}], "mark": {"type": "point", "filled": true, "strokeWidth": 1, "size": 90, "opacity": 1},
                 "encoding": {
                   "shape": {"field": "type", "type": "nominal", "scale": {"domain": ["ignimbrite", "banded pumice", "phonolite pumice"], "range": ["square", "diamond", "diamond"]}, "legend": {"orient": "bottom-right", "title": null, "rowPadding": 2}},
                   "fill": {"field": "type", "type": "nominal", "scale": {"domain": ["ignimbrite", "banded pumice", "phonolite pumice"], "range": ["#8c8c8c", "white", "black"]}, "legend": {"orient": "bottom-right", "title": null, "rowPadding": 2}},
                   "stroke": {"field": "type", "type": "nominal", "scale": {"domain": ["ignimbrite", "banded pumice", "phonolite pumice"], "range": ["black", "black", "black"]}, "legend": {"orient": "bottom-right", "title": null, "rowPadding": 2}}
                 }},
                {"data": {"name": "labels"}, "transform": [{"filter": "datum.panel === 'La Mareta' && datum.kind === 'name'"}], "mark": {"type": "text", "fontWeight": "bold", "fontSize": 18, "color": "black"}, "encoding": {"text": {"field": "text"}}},
                {"data": {"name": "labels"}, "transform": [{"filter": "datum.panel === 'La Mareta' && datum.kind === 'region'"}], "mark": {"type": "text", "align": "left", "fontSize": 16, "color": "black"}, "encoding": {"text": {"field": "text"}}}
              ]
            },
            {
              "width": 243, "height": 199,
              "encoding": {
                "x": {"field": "x", "type": "quantitative", "scale": {"domain": [0, 50], "nice": false}, "axis": {"values": [0, 10, 20, 30, 40, 50], "labels": false, "title": null}},
                "y": {"field": "y", "type": "quantitative", "scale": {"domain": [0, 50], "nice": false}, "axis": {"values": [0, 10, 20, 30, 40], "title": null}}
              },
              "layer": [
                {"data": {"values": [{"x": 0, "y": 0, "x2": 50, "y2": 50}]}, "mark": {"type": "rule", "color": "black", "strokeWidth": 1}, "encoding": {"x2": {"field": "x2"}, "y2": {"field": "y2"}}},
                {"data": {"name": "points"}, "transform": [{"filter": "datum.panel === 'Lower Grey'"}], "mark": {"type": "point", "shape": "diamond", "filled": true, "fill": "black", "stroke": "black", "strokeWidth": 1, "size": 90, "opacity": 1}},
                {"data": {"name": "labels"}, "transform": [{"filter": "datum.panel === 'Lower Grey' && datum.kind === 'name'"}], "mark": {"type": "text", "fontWeight": "bold", "fontSize": 18, "color": "black"}, "encoding": {"text": {"field": "text"}}},
                {"data": {"name": "labels"}, "transform": [{"filter": "datum.panel === 'Lower Grey' && datum.kind === 'region'"}], "mark": {"type": "text", "align": "left", "fontSize": 16, "color": "black"}, "encoding": {"text": {"field": "text"}}}
              ]
            },
            {
              "width": 243, "height": 199,
              "encoding": {
                "x": {"field": "x", "type": "quantitative", "scale": {"domain": [0, 50], "nice": false}, "axis": {"values": [0, 10, 20, 30, 40, 50], "title": "%Or core"}},
                "y": {"field": "y", "type": "quantitative", "scale": {"domain": [0, 50], "nice": false}, "axis": {"values": [0, 10, 20, 30, 40], "title": null}}
              },
              "layer": [
                {"data": {"values": [{"x": 0, "y": 0, "x2": 50, "y2": 50}]}, "mark": {"type": "rule", "color": "black", "strokeWidth": 1}, "encoding": {"x2": {"field": "x2"}, "y2": {"field": "y2"}}},
                {"data": {"name": "points"}, "transform": [{"filter": "datum.panel === 'Basalts'"}], "mark": {"type": "point", "shape": "square", "filled": true, "fill": "white", "stroke": "black", "strokeWidth": 1, "size": 64, "opacity": 1}},
                {"data": {"name": "labels"}, "transform": [{"filter": "datum.panel === 'Basalts' && datum.kind === 'name'"}], "mark": {"type": "text", "fontWeight": "bold", "fontSize": 18, "color": "black"}, "encoding": {"text": {"field": "text"}}},
                {"data": {"name": "labels"}, "transform": [{"filter": "datum.panel === 'Basalts' && datum.kind === 'region'"}], "mark": {"type": "text", "align": "left", "fontSize": 16, "color": "black"}, "encoding": {"text": {"field": "text"}}}
              ]
            }
          ]
        },
        {
          "bounds": "flush",
          "spacing": 0,
          "resolve": {"scale": {"shape": "independent", "fill": "independent", "stroke": "independent"}, "legend": {"shape": "independent", "fill": "independent", "stroke": "independent"}},
          "vconcat": [
            {
              "width": 248, "height": 796,
              "view": {"stroke": null},
              "data": {"values": [{"blank": 0}]},
              "mark": {"type": "point", "opacity": 0},
              "encoding": {}
            },
            {
              "title": "Cycle 3",
              "width": 248, "height": 199,
              "encoding": {
                "x": {"field": "x", "type": "quantitative", "scale": {"domain": [0, 40], "nice": false}, "axis": {"values": [0, 10, 20, 30, 40], "labels": false, "title": null}},
                "y": {"field": "y", "type": "quantitative", "scale": {"domain": [0, 40], "nice": false}, "axis": {"values": [0, 10, 20, 30, 40], "title": null}}
              },
              "layer": [
                {"data": {"values": [{"x": 0, "y": 0, "x2": 40, "y2": 40}]}, "mark": {"type": "rule", "color": "black", "strokeWidth": 1}, "encoding": {"x2": {"field": "x2"}, "y2": {"field": "y2"}}},
                {"data": {"name": "points"}, "transform": [{"filter": "datum.panel === 'El Abrigo'"}], "mark": {"type": "point", "shape": "diamond", "filled": true, "fill": "black", "stroke": "black", "strokeWidth": 1, "size": 90, "opacity": 1}},
                {"data": {"name": "labels"}, "transform": [{"filter": "datum.panel === 'El Abrigo' && datum.kind === 'name'"}], "mark": {"type": "text", "fontWeight": "bold", "fontSize": 18, "color": "black"}, "encoding": {"text": {"field": "text"}}},
                {"data": {"name": "labels"}, "transform": [{"filter": "datum.panel === 'El Abrigo' && datum.kind === 'region'"}], "mark": {"type": "text", "align": "left", "fontSize": 16, "color": "black"}, "encoding": {"text": {"field": "text"}}}
              ]
            },
            {
              "width": 248, "height": 199,
              "encoding": {
                "x": {"field": "x", "type": "quantitative", "scale": {"domain": [0, 40], "nice": false}, "axis": {"values": [0, 10, 20, 30, 40], "title": "%Or core"}},
                "y": {"field": "y", "type": "quantitative", "scale": {"domain": [0, 40], "nice": false}, "axis": {"values": [0, 10, 20, 30], "title": null}}
              },
              "layer": [
                {"data": {"values": [{"x": 0, "y": 0, "x2": 40, "y2": 40}]}, "mark": {"type": "rule", "color": "black", "strokeWidth": 1}, "encoding": {"x2": {"field": "x2"}, "y2": {"field": "y2"}}},
                {"data": {"name": "points"}, "transform": [{"filter": "datum.panel === 'La Caleta'"}], "mark": {"type": "point", "shape": "diamond", "filled": true, "fill": "black", "stroke": "black", "strokeWidth": 1, "size": 90, "opacity": 1}},
                {"data": {"name": "labels"}, "transform": [{"filter": "datum.panel === 'La Caleta' && datum.kind === 'name'"}], "mark": {"type": "text", "fontWeight": "bold", "fontSize": 18, "color": "black"}, "encoding": {"text": {"field": "text"}}},
                {"data": {"name": "labels"}, "transform": [{"filter": "datum.panel === 'La Caleta' && datum.kind === 'region'"}], "mark": {"type": "text", "align": "left", "fontSize": 16, "color": "black"}, "encoding": {"text": {"field": "text"}}}
              ]
            }
          ]
        }
      ]
    }
  ]
}
